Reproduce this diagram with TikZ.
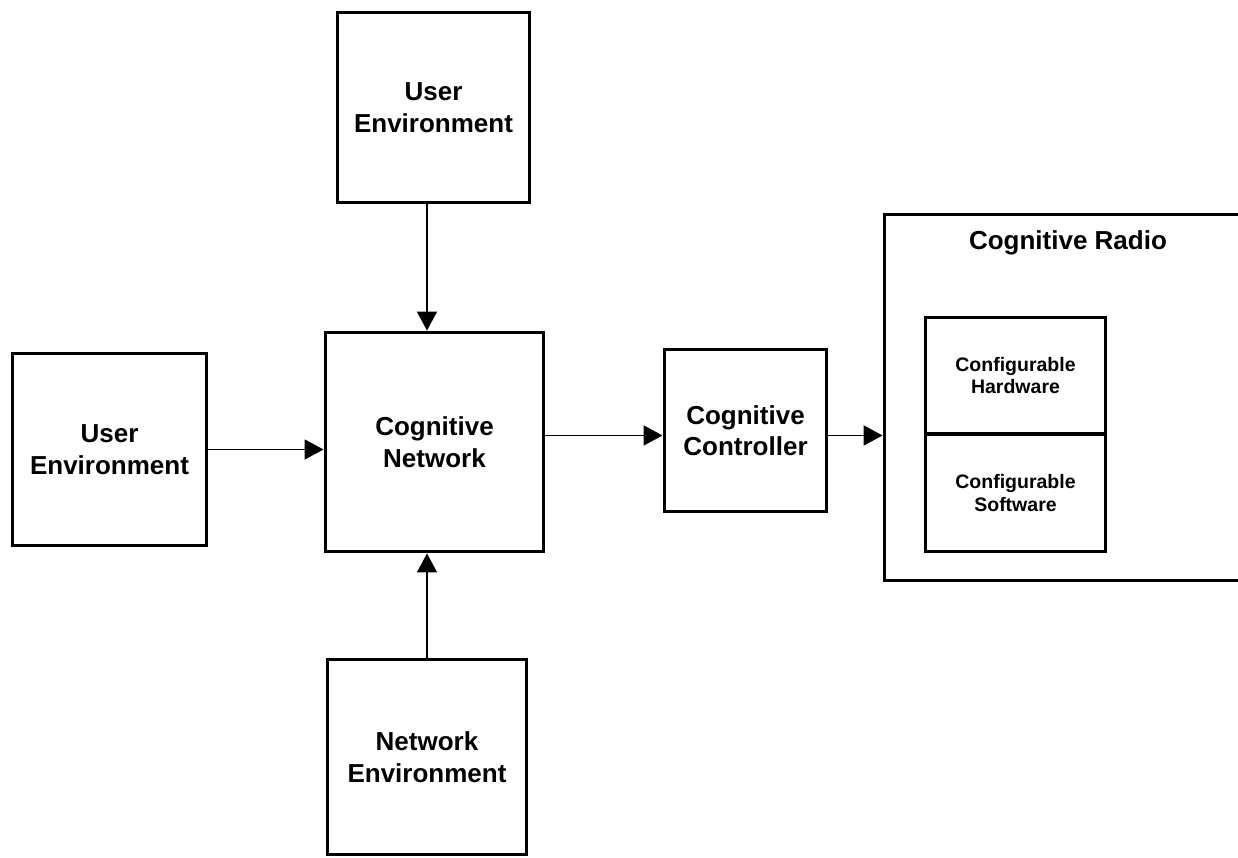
\documentclass[tikz,border=0pt]{standalone}
\usepackage{fontspec}
\setmainfont{Liberation Sans}
\usetikzlibrary{arrows.meta}

\begin{document}
\begin{tikzpicture}[x=0.02cm, y=-0.02cm,
    block/.style={draw, line width=1.7pt, align=center, inner sep=0pt,
      font=\fontsize{14.8}{17.9}\selectfont\bfseries},
    smallblock/.style={block, font=\fontsize{11.1}{13}\selectfont\bfseries},
    arr/.style={-{Triangle[length=0.38cm, width=0.4cm]}, line width=1.1pt}
  ]
    \clip (0,0) rectangle (1238,858);

    % the environments round the network
    \node[block, minimum width=3.86cm, minimum height=3.82cm] (ue1) at (433.5,107.5) {User\\Environment};
    \node[block, minimum width=3.90cm, minimum height=3.86cm] (ue2) at (109.5,449.5) {User\\Environment};
    \node[block, minimum width=4.38cm, minimum height=4.40cm] (cn)  at (434.5,442)   {Cognitive\\Network};
    \node[block, minimum width=4.00cm, minimum height=3.92cm] (ne)  at (427,757)     {Network\\Environment};
    \node[block, minimum width=3.26cm, minimum height=3.26cm] (cc)  at (745.5,430.5) {Cognitive\\Controller};

    % the radio, cut at the right edge
    \node[block, minimum width=7.36cm, minimum height=7.34cm] (cr) at (1068,397.5) {};
    \node[anchor=base, font=\fontsize{14.8}{17.9}\selectfont\bfseries] (crtitle) at (1068,250) {Cognitive Radio};
    \node[smallblock, minimum width=3.62cm, minimum height=2.34cm] (hw) at (1015.5,375.5) {Configurable\\Hardware};
    \node[smallblock, minimum width=3.62cm, minimum height=2.36cm] (sw) at (1015.5,493)   {Configurable\\Software};

    % connectors
    \draw[arr] (ue1.south -| ne.north) -- (cn.north -| ne.north);
    \draw[arr] (ne.north) -- (ne.north |- cn.south);
    \draw[arr] (ue2.east) -- (ue2.east -| cn.west);
    \draw[arr] (cn.east |- hw.south) -- (cc.west |- hw.south);
    \draw[arr] (cc.east |- hw.south) -- (cr.west |- hw.south);

\end{tikzpicture}
\end{document}
